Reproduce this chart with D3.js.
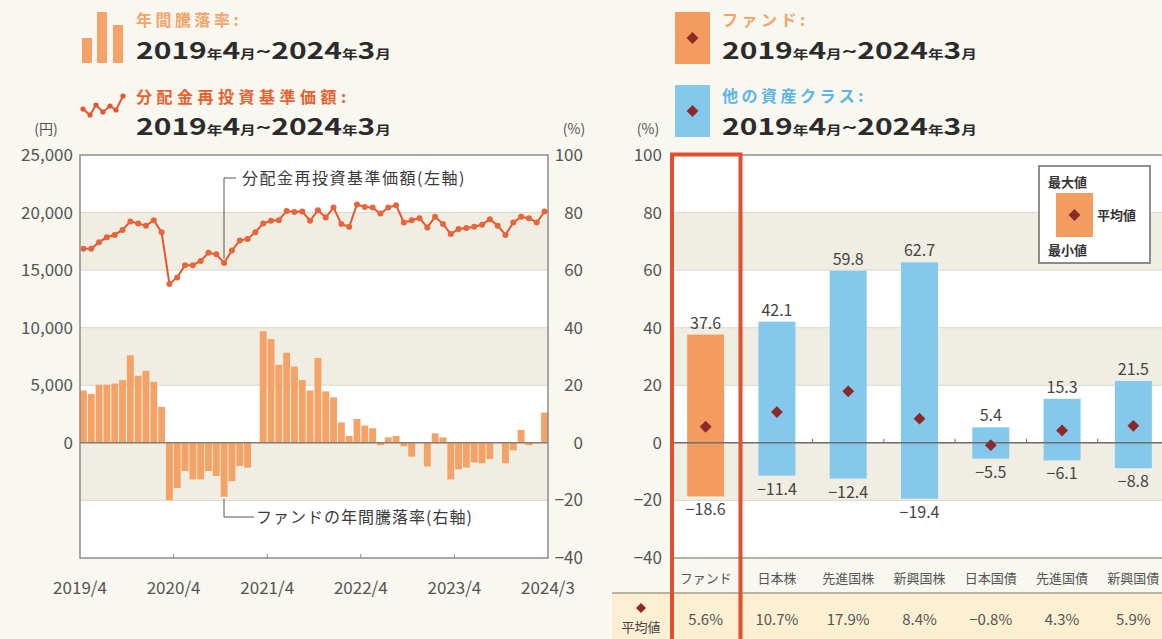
<!DOCTYPE html>
<html>
<head>
<meta charset="utf-8">
<script src="https://cdn.jsdelivr.net/npm/d3@7"></script>
<style>
body { margin: 0; background: #f8f7f0; }
svg { display: block; font-family: "Noto Sans CJK JP", "Noto Sans", sans-serif; }
</style>
</head>
<body>
<script>
// 年間騰落率 (%), 2019/4 - 2024/3
var returns = [18.2, 17.0, 20.2, 20.2, 20.6, 21.8, 30.4, 23.3, 25.0, 21.2, 12.5,
  -19.9, -15.7, -9.8, -12.7, -12.7, -9.8, -11.5, -18.7, -13.3, -8.0, -8.6,
  0.2, 38.8, 36.1, 27.1, 31.3, 26.5, 21.8, 18.2, 29.5, 17.9, 15.8, 7.1, 2.4,
  8.3, 6.0, 5.1, -0.8, 1.9, 2.4, -1.2, -4.8, 0.2, -8.2, 3.3, 1.9, -12.7,
  -9.2, -8.6, -6.8, -7.1, -5.6, 0.2, -7.1, -2.6, 4.5, -0.8, 0.2, 10.5];

// 分配金再投資基準価額 (円)
var nav = [16850, 16850, 17430, 17860, 18060, 18490, 19230, 19060, 18860, 19340,
  18290, 13800, 14370, 15430, 15430, 15800, 16510, 16370, 15630, 16710, 17570,
  17710, 18290, 19060, 19290, 19340, 20140, 20050, 20090, 19290, 20200, 19570,
  20430, 19000, 18770, 20710, 20490, 20430, 19910, 20430, 20630, 19140, 19340,
  19510, 18710, 19630, 19000, 18140, 18570, 18660, 18770, 18940, 19430, 18860,
  18060, 19140, 19630, 19510, 19140, 20090];

var months = d3.timeMonth.range(new Date(2019, 3, 1), new Date(2024, 3, 1));
var xTickLabels = ["2019/4", "2020/4", "2021/4", "2022/4", "2023/4", "2024/3"];
var xTickIdx = [0, 12, 24, 36, 48, 60];
var yenTicks = [0, 5000, 10000, 15000, 20000, 25000];
var pctTicks = [-40, -20, 0, 20, 40, 60, 80, 100];

// 右: ファンドと他の資産クラス
var classes = ["ファンド", "日本株", "先進国株", "新興国株", "日本国債", "先進国債", "新興国債"];
var maxVals = [37.6, 42.1, 59.8, 62.7, 5.4, 15.3, 21.5];
var minVals = [-18.6, -11.4, -12.4, -19.4, -5.5, -6.1, -8.8];
var meanVals = [5.6, 10.7, 17.9, 8.4, -0.8, 4.3, 5.9];

var width = 1162, height = 639;
var orange = "#f39c5f", blue = "#84c8ec", dark = "#8c2a2a", shade = "#f0ede2";

var svg = d3.select("body").append("svg")
    .attr("width", width)
    .attr("height", height);

var fmtDate = function(g, x, y) {
  var t = g.append("text").attr("x", x).attr("y", y)
    .attr("fill", "#2b2b2b").attr("font-weight", "bold")
    .attr("textLength", 255).attr("lengthAdjust", "spacingAndGlyphs");
  [["2019", 23], ["年", 12], ["4", 23], ["月", 12], ["~", 20], ["2024", 23], ["年", 12], ["3", 23], ["月", 12]]
    .forEach(function(p) { t.append("tspan").attr("font-size", p[1]).text(p[0]); });
};

// ---------------- left chart ----------------
var L = {left: 80, right: 548, top: 155, bottom: 558};
var yPct = d3.scaleLinear().domain([-40, 100]).range([L.bottom, L.top]);
var yYen = d3.scaleLinear().domain([-10000, 25000]).range([L.bottom, L.top]);
var xb = d3.scaleBand().domain(d3.range(months.length)).range([L.left, L.right]).paddingInner(0.12);
var xi = d3.scaleLinear().domain([0, 60]).range([L.left, L.right]);

var left = svg.append("g");
left.append("rect").attr("x", L.left).attr("y", L.top)
  .attr("width", L.right - L.left).attr("height", L.bottom - L.top).attr("fill", "#fff");
left.selectAll("rect.band").data(d3.range(-40, 100, 20).filter(function(d, i) { return i % 2 == 1; }))
  .enter().append("rect").attr("class", "band")
  .attr("x", L.left).attr("width", L.right - L.left)
  .attr("y", function(d) { return yPct(d + 20); })
  .attr("height", function(d) { return yPct(d) - yPct(d + 20); })
  .attr("fill", shade);
left.selectAll("line.grid").data(pctTicks.slice(1, -1)).enter().append("line")
  .attr("x1", L.left).attr("x2", L.right)
  .attr("y1", function(d) { return yPct(d); }).attr("y2", function(d) { return yPct(d); })
  .attr("stroke", "#dcd8cc").attr("stroke-width", 1);

left.selectAll("rect.bar").data(returns).enter().append("rect").attr("class", "bar")
  .attr("x", function(d, i) { return xb(i); })
  .attr("width", xb.bandwidth())
  .attr("y", function(d) { return yPct(Math.max(0, d)); })
  .attr("height", function(d) { return Math.abs(yPct(d) - yPct(0)); })
  .attr("fill", "#f5a266");

left.append("line").attr("x1", L.left).attr("x2", L.right)
  .attr("y1", yPct(0)).attr("y2", yPct(0)).attr("stroke", "#8a7d72").attr("stroke-width", 1.5);

var line = d3.line()
  .x(function(d, i) { return xb(i) + xb.bandwidth() / 2; })
  .y(function(d) { return yYen(d); });
left.append("path").datum(nav).attr("d", line)
  .attr("fill", "none").attr("stroke", "#e4572e").attr("stroke-width", 2);
left.selectAll("circle").data(nav).enter().append("circle")
  .attr("cx", function(d, i) { return xb(i) + xb.bandwidth() / 2; })
  .attr("cy", function(d) { return yYen(d); })
  .attr("r", 3).attr("fill", "#e8653a");

left.append("rect").attr("x", L.left).attr("y", L.top)
  .attr("width", L.right - L.left).attr("height", L.bottom - L.top)
  .attr("fill", "none").attr("stroke", "#8c8c8c").attr("stroke-width", 1.5);

// x axis
left.selectAll("line.xt").data(xTickIdx.slice(1, -1)).enter().append("line")
  .attr("x1", function(d) { return xi(d); }).attr("x2", function(d) { return xi(d); })
  .attr("y1", L.bottom).attr("y2", L.bottom - 4).attr("stroke", "#8c8c8c");
left.selectAll("text.xl").data(xTickLabels).enter().append("text")
  .attr("x", function(d, i) { return xi(xTickIdx[i]); }).attr("y", 594)
  .attr("text-anchor", "middle").attr("font-size", 17).attr("fill", "#555")
  .text(function(d) { return d; });

// y axes
left.selectAll("text.yl").data(yenTicks).enter().append("text")
  .attr("x", 73).attr("y", function(d) { return yYen(d) + 6; })
  .attr("text-anchor", "end").attr("font-size", 17).attr("fill", "#555")
  .text(d3.format(","));
left.selectAll("text.yr").data(pctTicks).enter().append("text")
  .attr("x", 583).attr("y", function(d) { return yPct(d) + 6; })
  .attr("text-anchor", "end").attr("font-size", 17).attr("fill", "#555")
  .text(function(d) { return d < 0 ? "−" + (-d) : d; });
left.append("text").attr("x", 46).attr("y", 134).attr("text-anchor", "middle")
  .attr("font-size", 14).attr("fill", "#555").text("(円)");
left.append("text").attr("x", 574).attr("y", 134).attr("text-anchor", "middle")
  .attr("font-size", 14).attr("fill", "#555").text("(%)");

// annotations
left.append("path").attr("d", "M224," + (yYen(nav[18]) - 4) + "V178H236")
  .attr("fill", "none").attr("stroke", "#555").attr("stroke-width", 1);
left.append("text").attr("x", 242).attr("y", 184).attr("font-size", 16)
  .attr("letter-spacing", 1.5).attr("fill", "#3a3a3a").text("分配金再投資基準価額(左軸)");
left.append("path").attr("d", "M224," + (yPct(returns[18]) + 2) + "V517H254")
  .attr("fill", "none").attr("stroke", "#555").attr("stroke-width", 1);
left.append("text").attr("x", 256).attr("y", 523).attr("font-size", 16)
  .attr("letter-spacing", 1).attr("fill", "#3a3a3a").text("ファンドの年間騰落率(右軸)");

// left legend
var lg = svg.append("g");
lg.selectAll("rect").data([[82, 38], [97, 12], [113, 25]]).enter().append("rect")
  .attr("x", function(d) { return d[0]; }).attr("y", function(d) { return d[1]; })
  .attr("width", 10).attr("height", function(d) { return 63 - d[1]; }).attr("fill", "#f5a266");
var icon = [[83, 109], [90, 115], [96, 105], [103, 112], [110, 106], [116, 110], [123, 96]];
lg.append("path").attr("d", d3.line()(icon)).attr("fill", "none").attr("stroke", "#e4572e").attr("stroke-width", 2);
lg.selectAll("circle").data(icon).enter().append("circle")
  .attr("cx", function(d) { return d[0]; }).attr("cy", function(d) { return d[1]; })
  .attr("r", 2.6).attr("fill", "#e4572e");
lg.append("text").attr("x", 136).attr("y", 26).attr("font-size", 16).attr("font-weight", "bold")
  .attr("letter-spacing", 3.5).attr("fill", "#f4a468").text("年間騰落率:");
fmtDate(lg, 136, 59);
lg.append("text").attr("x", 136).attr("y", 103).attr("font-size", 16).attr("font-weight", "bold")
  .attr("letter-spacing", 4.5).attr("fill", "#e8602f").text("分配金再投資基準価額:");
fmtDate(lg, 136, 135);

// ---------------- right chart ----------------
var R = {left: 672, right: 1162, top: 155, bottom: 558};
var yR = d3.scaleLinear().domain([-40, 100]).range([R.bottom, R.top]);
var xc = d3.scaleBand().domain(classes).range([670, 1169]);
var bw = 37;
var cx = function(c) { return xc(c) + xc.bandwidth() / 2; };

var right = svg.append("g");
right.append("rect").attr("x", R.left).attr("y", R.top)
  .attr("width", R.right - R.left).attr("height", R.bottom - R.top).attr("fill", "#fff");
right.selectAll("rect.band").data(d3.range(-40, 100, 20).filter(function(d, i) { return i % 2 == 1; }))
  .enter().append("rect").attr("class", "band")
  .attr("x", R.left).attr("width", R.right - R.left)
  .attr("y", function(d) { return yR(d + 20); })
  .attr("height", function(d) { return yR(d) - yR(d + 20); })
  .attr("fill", shade);
right.selectAll("line.grid").data(pctTicks.slice(1, -1)).enter().append("line")
  .attr("x1", R.left).attr("x2", R.right)
  .attr("y1", function(d) { return yR(d); }).attr("y2", function(d) { return yR(d); })
  .attr("stroke", "#dcd8cc");
right.append("line").attr("x1", R.left).attr("x2", R.right).attr("y1", R.top).attr("y2", R.top)
  .attr("stroke", "#8c8c8c").attr("stroke-width", 1.5);
right.append("line").attr("x1", R.left).attr("x2", R.right).attr("y1", R.bottom).attr("y2", R.bottom)
  .attr("stroke", "#b5b0a6").attr("stroke-width", 2);

right.selectAll("rect.bar").data(classes).enter().append("rect").attr("class", "bar")
  .attr("x", function(d) { return cx(d) - bw / 2; })
  .attr("width", bw)
  .attr("y", function(d, i) { return yR(maxVals[i]); })
  .attr("height", function(d, i) { return yR(minVals[i]) - yR(maxVals[i]); })
  .attr("fill", function(d, i) { return i == 0 ? orange : blue; });

right.append("line").attr("x1", R.left).attr("x2", R.right).attr("y1", yR(0)).attr("y2", yR(0))
  .attr("stroke", "#6f6f6f").attr("stroke-width", 1.5);
right.selectAll("line.ct").data(classes.slice(1)).enter().append("line")
  .attr("x1", function(d) { return xc(d); }).attr("x2", function(d) { return xc(d); })
  .attr("y1", yR(0)).attr("y2", yR(0) - 4).attr("stroke", "#6f6f6f");

var diamond = d3.symbol().type(d3.symbolSquare).size(70);
right.selectAll("path.mean").data(classes).enter().append("path").attr("class", "mean")
  .attr("d", diamond)
  .attr("transform", function(d, i) { return "translate(" + cx(d) + "," + yR(meanVals[i]) + ") rotate(45)"; })
  .attr("fill", dark);

right.selectAll("text.max").data(classes).enter().append("text")
  .attr("x", function(d) { return cx(d); })
  .attr("y", function(d, i) { return yR(maxVals[i]) - 6; })
  .attr("text-anchor", "middle").attr("font-size", 16).attr("fill", "#444")
  .text(function(d, i) { return maxVals[i].toFixed(1); });
right.selectAll("text.min").data(classes).enter().append("text")
  .attr("x", function(d) { return cx(d); })
  .attr("y", function(d, i) { return yR(minVals[i]) + 19; })
  .attr("text-anchor", "middle").attr("font-size", 16).attr("fill", "#444")
  .text(function(d, i) { return "−" + (-minVals[i]).toFixed(1); });

right.selectAll("text.yl").data(pctTicks).enter().append("text")
  .attr("x", 662).attr("y", function(d) { return yR(d) + 6; })
  .attr("text-anchor", "end").attr("font-size", 17).attr("fill", "#555")
  .text(function(d) { return d < 0 ? "−" + (-d) : d; });
right.append("text").attr("x", 648).attr("y", 134).attr("text-anchor", "middle")
  .attr("font-size", 14).attr("fill", "#555").text("(%)");

right.selectAll("text.cat").data(classes).enter().append("text")
  .attr("x", function(d) { return cx(d); }).attr("y", 583)
  .attr("text-anchor", "middle").attr("font-size", 13).attr("fill", "#555")
  .text(function(d) { return d; });

// mean row
right.append("rect").attr("x", 612).attr("y", 593).attr("width", 550).attr("height", 46).attr("fill", "#fcefd2");
right.append("line").attr("x1", 612).attr("x2", 1162).attr("y1", 593).attr("y2", 593)
  .attr("stroke", "#a59c90").attr("stroke-width", 1.5);
right.selectAll("text.mv").data(classes).enter().append("text")
  .attr("x", function(d) { return cx(d); }).attr("y", 625)
  .attr("text-anchor", "middle").attr("font-size", 15).attr("fill", "#555")
  .text(function(d, i) { return (meanVals[i] < 0 ? "−" + (-meanVals[i]).toFixed(1) : meanVals[i].toFixed(1)) + "%"; });
right.append("path").attr("d", d3.symbol().type(d3.symbolSquare).size(50))
  .attr("transform", "translate(641,608) rotate(45)").attr("fill", dark);
right.append("text").attr("x", 641).attr("y", 632).attr("text-anchor", "middle")
  .attr("font-size", 13).attr("fill", "#444").text("平均値");

// highlight frame on ファンド
right.append("rect").attr("x", 672).attr("y", 154.5).attr("width", 68.5).attr("height", 520)
  .attr("fill", "none").attr("stroke", "#e0502f").attr("stroke-width", 4);

// box legend
var bl = right.append("g");
bl.append("rect").attr("x", 1039).attr("y", 166).attr("width", 111).attr("height", 97)
  .attr("fill", "#fff").attr("stroke", "#6a6a6a").attr("stroke-width", 1.5);
bl.append("rect").attr("x", 1056).attr("y", 193).attr("width", 37).attr("height", 44).attr("fill", orange);
bl.append("path").attr("d", diamond).attr("transform", "translate(1074.5,215) rotate(45)").attr("fill", dark);
bl.append("text").attr("x", 1048).attr("y", 187).attr("font-size", 13).attr("font-weight", "bold").attr("fill", "#333").text("最大値");
bl.append("text").attr("x", 1097).attr("y", 220).attr("font-size", 13).attr("font-weight", "bold").attr("fill", "#333").text("平均値");
bl.append("text").attr("x", 1048).attr("y", 255).attr("font-size", 13).attr("font-weight", "bold").attr("fill", "#333").text("最小値");

// right legend
var rl = svg.append("g");
[[12, 26, 59, orange, "ファンド:", "#f4a468"], [85, 102, 135, blue, "他の資産クラス:", "#5bb5e6"]].forEach(function(p) {
  rl.append("rect").attr("x", 675).attr("y", p[0]).attr("width", 35).attr("height", 52).attr("fill", p[3]);
  rl.append("path").attr("d", diamond).attr("transform", "translate(692.5," + (p[0] + 26) + ") rotate(45)").attr("fill", dark);
  rl.append("text").attr("x", 722).attr("y", p[1]).attr("font-size", 16).attr("font-weight", "bold")
    .attr("letter-spacing", 3.5).attr("fill", p[5]).text(p[4]);
  fmtDate(rl, 722, p[2]);
});
</script>
</body>
</html>
